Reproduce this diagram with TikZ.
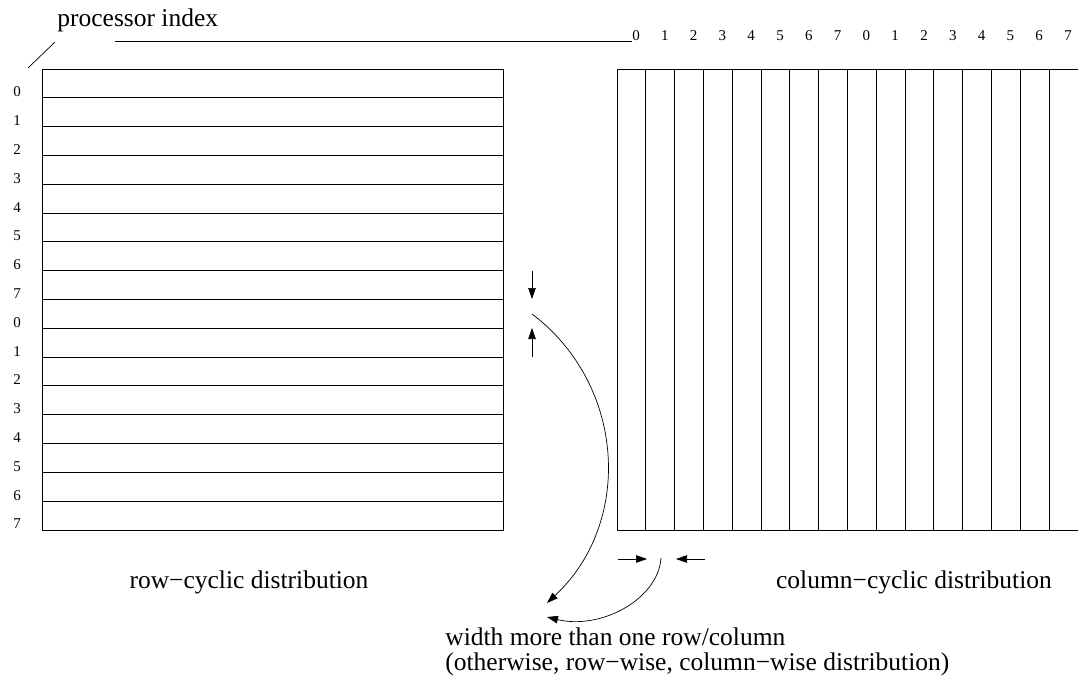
\documentclass[tikz,border=0pt]{standalone}
\usepackage{fontspec}
\setmainfont{Liberation Serif}
\usetikzlibrary{arrows.meta}
\begin{document}
\begin{tikzpicture}[x=1pt,y=-1pt, line width=0.8pt,
  lbl/.style={font=\fontsize{25.5}{30}\selectfont, inner sep=0pt},
  idx/.style={font=\fontsize{15}{18}\selectfont, inner sep=0pt, anchor=base},
  arr/.style={-{Triangle[length=11pt,width=7.5pt]}, line width=0.7pt}]
\useasboundingbox (0,0) rectangle (1078,685);
% left rectangle: row-cyclic
\draw (42,69) rectangle (503,530);
\foreach \k in {1,...,15} \draw (42,{69+28.8*\k}) -- (503,{69+28.8*\k});
\foreach \k in {0,...,15} {
  \pgfmathtruncatemacro{\p}{mod(\k,8)}
  \node[idx] (r\k) at (17,{69+28.8*(\k+1)-1}) {\p};
}
% right rectangle: column-cyclic
\draw (617,69) -- (1078,69);
\draw (617,530) -- (1078,530);
\foreach \k in {0,...,15} \draw ({617+28.8*\k},69) -- ({617+28.8*\k},530);
\foreach \k in {0,...,15} {
  \pgfmathtruncatemacro{\p}{mod(\k,8)}
  \node[idx] (c\k) at ({636+28.8*\k},41) {\p};
}
% processor index label
\node[lbl, anchor=base west] (pi) at (57,27) {processor index};
\coordinate (pl) at (115,41);
\draw[line width=0.7pt] (pl) -- (c0.base west);
\coordinate (d1) at (28,68);
\coordinate (d2) at (55,42);
\draw[line width=0.7pt] (d1) -- (d2);
% row width arrows
\coordinate (a1s) at (532,271);
\coordinate (a1e) at (532,299);
\coordinate (a2s) at (532,357);
\coordinate (a2e) at (532,328);
\draw[arr] (a1s) -- (a1e);
\draw[arr] (a2s) -- (a2e);
% column width arrows
\coordinate (b1s) at (618,559);
\coordinate (b1e) at (647,559);
\coordinate (b2s) at (705,559);
\coordinate (b2e) at (676,559);
\draw[arr] (b1s) -- (b1e);
\draw[arr] (b2s) -- (b2e);
% curved arrows to the note
\coordinate (k1s) at (532,314);
\coordinate (k1e) at (547,603);
\coordinate (k2s) at (661,558);
\coordinate (k2e) at (547,617);
\draw[arr] (k1s) .. controls (626,385) and (633,523) .. (k1e);
\draw[arr] (k2s) .. controls (658,600) and (600,630) .. (k2e);
% captions
\node[lbl, anchor=base] (rc) at (249,588) {row−cyclic distribution};
\node[lbl, anchor=base] (cc) at (914,588) {column−cyclic distribution};
\node[lbl, anchor=base west] (w1) at (445,645) {width more than one row/column};
\node[lbl, anchor=base west] (w2) at (445,670) {(otherwise, row−wise, column−wise distribution)};
\end{tikzpicture}
\end{document}
